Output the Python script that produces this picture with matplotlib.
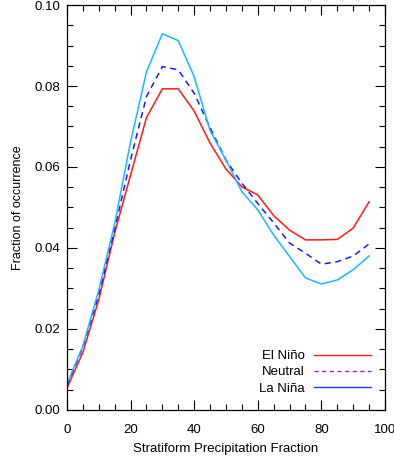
import matplotlib
matplotlib.use('Agg')
import matplotlib.pyplot as plt
from matplotlib.lines import Line2D
from matplotlib.ticker import MultipleLocator

plt.rcParams['font.family'] = ['Liberation Sans', 'DejaVu Sans']

# stratiform precipitation fraction bins
sf = [0, 5, 10, 15, 20, 25, 30, 35, 40, 45, 50, 55, 60, 65, 70, 75, 80, 85, 90, 95]

el_nino = [0.0054, 0.0142, 0.0272, 0.0437, 0.0580, 0.0722, 0.0793, 0.0793, 0.0738, 0.0659,
           0.0595, 0.0551, 0.0531, 0.0480, 0.0444, 0.0420, 0.0420, 0.0421, 0.0449, 0.0514]
neutral = [0.0060, 0.0155, 0.0284, 0.0446, 0.0618, 0.0774, 0.0848, 0.0840, 0.0782, 0.0697,
           0.0617, 0.0560, 0.0510, 0.0462, 0.0412, 0.0387, 0.0360, 0.0366, 0.0380, 0.0410]
la_nina = [0.0064, 0.0158, 0.0296, 0.0460, 0.0662, 0.0835, 0.0929, 0.0912, 0.0823, 0.0690,
           0.0617, 0.0539, 0.0494, 0.0432, 0.0379, 0.0326, 0.0311, 0.0321, 0.0346, 0.0380]

fig = plt.figure(figsize=(3.94, 4.58), dpi=100)
ax = fig.add_axes([0.170, 0.105, 0.807, 0.884])

ax.plot(sf, el_nino, color='#ff1a1a', lw=1.1)
ax.plot(sf, neutral, color='#1a1aff', lw=1.1, ls=(0, (4, 3)))
ax.plot(sf, la_nina, color='#1ab8ff', lw=1.1)

ax.set_xlim(0, 100)
ax.set_ylim(0, 0.10)
ax.xaxis.set_major_locator(MultipleLocator(20))
ax.xaxis.set_minor_locator(MultipleLocator(5))
ax.yaxis.set_major_locator(MultipleLocator(0.02))
ax.yaxis.set_minor_locator(MultipleLocator(0.005))
ax.yaxis.set_major_formatter(matplotlib.ticker.FormatStrFormatter('%.2f'))
ax.tick_params(which='both', direction='in', top=True, right=True, labelsize=9.5)
ax.tick_params(axis='x', pad=10)
ax.tick_params(axis='y', pad=5)
ax.tick_params(which='major', length=7, width=0.8)
ax.tick_params(which='minor', length=4, width=0.8)
for s in ax.spines.values():
    s.set_linewidth(0.9)

ax.set_xlabel('Stratiform Precipitation Fraction', fontsize=9.5, labelpad=5)
ax.set_ylabel('Fraction of occurrence', fontsize=9, labelpad=7)

handles = [Line2D([], [], color='#ff1a1a', lw=1),
           Line2D([], [], color='#a020c0', lw=1, ls=(0, (3, 2.5))),
           Line2D([], [], color='#1040e8', lw=1)]
ax.legend(handles, ['El Ni\u00f1o', 'Neutral', 'La Ni\u00f1a'], loc='lower right',
          bbox_to_anchor=(0.985, 0.015), frameon=False, fontsize=9.5, markerfirst=False,
          handlelength=4.3, handletextpad=0.7, labelspacing=0.3, borderaxespad=0.3)

fig.savefig('out.png', dpi=100)
